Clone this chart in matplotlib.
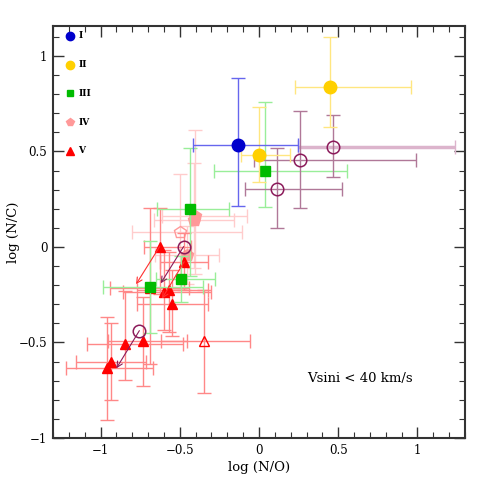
import matplotlib
matplotlib.use("Agg")
import matplotlib.pyplot as plt
import numpy as np
from matplotlib.ticker import MultipleLocator

plt.rcParams["font.family"] = ["DejaVu Serif"]

# ---- data: (x, y, xerr_lo, xerr_hi, yerr_lo, yerr_hi)
class_I = [(-0.134, 0.534, 0.28, 0.38, 0.32, 0.35)]
class_II = [(0.447, 0.839, 0.22, 0.51, 0.21, 0.26),
            (0.000, 0.482, 0.115, 0.195, 0.14, 0.25)]
class_III = [(0.038, 0.398, 0.325, 0.515, 0.19, 0.36),
             (-0.434, 0.199, 0.21, 0.245, 0.35, 0.32),
             (-0.490, -0.168, 0.16, 0.21, 0.12, 0.12),
             (-0.686, -0.209, 0.30, 0.33, 0.24, 0.24)]
class_IV = [(-0.403, 0.160, 0.21, 0.33, 0.30, 0.45),
            (-0.410, 0.140, 0.25, 0.25, 0.25, 0.30),
            (-0.455, -0.042, 0.20, 0.20, 0.15, 0.15)]
class_IV_open = [(-0.500, 0.080, 0.30, 0.39, 0.30, 0.30)]
class_V = [(-0.627, 0.002, 0.10, 0.20, 0.25, 0.20),
           (-0.472, -0.077, 0.15, 0.15, 0.15, 0.15),
           (-0.600, -0.235, 0.26, 0.30, 0.20, 0.22),
           (-0.570, -0.225, 0.20, 0.25, 0.22, 0.20),
           (-0.549, -0.298, 0.22, 0.23, 0.17, 0.18),
           (-0.690, -0.215, 0.25, 0.25, 0.40, 0.42),
           (-0.843, -0.508, 0.24, 0.365, 0.19, 0.28),
           (-0.734, -0.490, 0.22, 0.28, 0.24, 0.23),
           (-0.933, -0.600, 0.22, 0.22, 0.20, 0.20),
           (-0.958, -0.635, 0.26, 0.29, 0.27, 0.27)]
class_V_open = [(-0.346, -0.490, 0.27, 0.29, 0.276, 0.265)]
binaries = [(0.468, 0.525, 0.223, 0.769, 0.157, 0.166),
            (0.258, 0.455, 0.289, 0.734, 0.252, 0.259),
            (0.115, 0.302, 0.203, 0.411, 0.20, 0.215),
            (-0.476, 0.002, 0.15, 0.15, 0.15, 0.15),
            (-0.755, -0.438, 0.15, 0.15, 0.15, 0.15)]
binaries_err_shown = [True, True, True, False, False]

# arrows: (x_start, y_start, x_end, y_end)
red_arrows = [(-0.627, 0.002, -0.776, -0.195),
              (-0.472, -0.077, -0.612, -0.270)]
purple_arrows = [(-0.476, 0.002, -0.620, -0.190),
                 (-0.755, -0.438, -0.900, -0.635)]

legend_labels = ["I", "II", "III", "IV", "V"]

fig = plt.figure(figsize=(4.91, 4.91), dpi=100)
ax = fig.add_axes([0.108, 0.108, 0.839, 0.839])


def plot_group(data, color, ecolor, marker, ms, mfc=None, ew=1.0, zo=3, mew=1.0):
    for (x, y, xl, xh, yl, yh) in data:
        ax.errorbar([x], [y], xerr=[[xl], [xh]], yerr=[[yl], [yh]],
                    fmt="none", ecolor=ecolor, elinewidth=ew, capsize=5,
                    capthick=ew, zorder=zo - 1)
    xs = [d[0] for d in data]
    ys = [d[1] for d in data]
    ax.plot(xs, ys, linestyle="none", marker=marker, ms=ms,
            color=color, mfc=color if mfc is None else mfc,
            mec=color, mew=mew, zorder=zo)


plot_group(class_IV, "#ff9999", "#ffcccc", "p", 9, zo=3)
plot_group(class_IV_open, "#ff9999", "#ffcccc", "p", 9, mfc="none", zo=3)
plot_group(class_V, "#ff0000", "#ff8888", "^", 7.5, zo=4)
plot_group(class_V_open, "#ff0000", "#ff8888", "^", 7.5, mfc="none", zo=4)
plot_group(class_III, "#00bb00", "#99ee99", "s", 6.5, zo=5)

# binaries (open purple circles)
for i, ((x, y, xl, xh, yl, yh), shown) in enumerate(zip(binaries, binaries_err_shown)):
    if shown:
        hw = 2.5 if i == 0 else 1.0
        hc = "#dcb4cc" if i == 0 else "#b07898"
        ax.errorbar([x], [y], xerr=[[xl], [xh]], fmt="none",
                    ecolor=hc, elinewidth=hw, capsize=5, capthick=1.0,
                    zorder=5)
        ax.errorbar([x], [y], yerr=[[yl], [yh]], fmt="none",
                    ecolor="#b07898", elinewidth=1.0, capsize=5, capthick=1.0,
                    zorder=5)
ax.plot([b[0] for b in binaries], [b[1] for b in binaries], linestyle="none",
        marker="o", ms=9, mfc="none", mec="#8b1a5a", mew=1.1, zorder=7)

plot_group(class_II, "#ffd000", "#ffe680", "o", 9, zo=6)
plot_group(class_I, "#0000cc", "#6666ee", "o", 9, zo=6)

for (x0, y0, x1, y1) in red_arrows:
    ax.annotate("", xy=(x1, y1), xytext=(x0, y0),
                arrowprops=dict(arrowstyle="->", color="#ff3030", lw=0.8,
                                shrinkA=0, shrinkB=0, mutation_scale=10),
                zorder=8)
for (x0, y0, x1, y1) in purple_arrows:
    ax.annotate("", xy=(x1, y1), xytext=(x0, y0),
                arrowprops=dict(arrowstyle="->", color="#8b1a5a", lw=0.8,
                                shrinkA=0, shrinkB=0, mutation_scale=10),
                zorder=8)

# legend drawn as in original
leg_styles = [("o", "#0000cc", 6), ("o", "#ffd000", 6), ("s", "#00bb00", 4.5),
              ("p", "#ff9999", 6), ("^", "#ff0000", 5.5)]
leg_y = [1.105, 0.953, 0.806, 0.654, 0.503]
for (m, c, s), yy, lab in zip(leg_styles, leg_y, legend_labels):
    ax.plot([-1.195], [yy], marker=m, color=c, ms=s, linestyle="none")
    ax.text(-1.14, yy, lab, fontsize=6.5, fontweight="bold",
            va="center", ha="left")

ax.text(0.305, -0.69, "Vsini < 40 km/s", fontsize=9.5,
        va="center", ha="left")

ax.set_xlim(-1.3, 1.3)
ax.set_ylim(-1.0, 1.157)
ax.xaxis.set_minor_locator(MultipleLocator(0.1))
ax.yaxis.set_minor_locator(MultipleLocator(0.1))
ax.set_xticks([-1, -0.5, 0, 0.5, 1])
ax.set_xticklabels(["\u22121", "\u22120.5", "0", "0.5", "1"])
ax.set_yticks([-1, -0.5, 0, 0.5, 1])
ax.set_yticklabels(["\u22121", "\u22120.5", "0", "0.5", "1"])
ax.tick_params(which="both", direction="in", top=True, right=True,
               labelsize=8.5, color="#333333")
ax.tick_params(which="major", length=8, width=1.0, pad=4)
ax.tick_params(which="minor", length=4, width=0.8)
for sp in ax.spines.values():
    sp.set_linewidth(1.5)
    sp.set_color("#333333")
ax.set_xlabel("log (N/O)", fontsize=9.5, labelpad=3)
ax.set_ylabel("log (N/C)", fontsize=9.5)
ax.yaxis.set_label_coords(-0.08, 0.5)

fig.savefig("out.png", dpi=100)
